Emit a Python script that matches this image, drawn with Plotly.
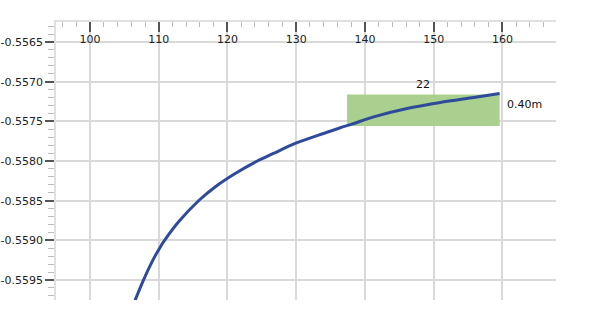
import plotly.graph_objects as go

# Curve data
curve_x = [106.55, 107.76, 109.13, 110.19, 110.82, 112.86, 115.87, 118.20, 121.12, 124.28,
           126.69, 129.85, 133.97, 136.41, 138.11, 141.26, 146.12, 150.97, 155.82, 159.60]
curve_y = [-0.559758, -0.559505, -0.559253, -0.559090, -0.559005, -0.558770, -0.558495,
           -0.558327, -0.558158, -0.558003, -0.557905, -0.557779, -0.557653, -0.557580,
           -0.557535, -0.557443, -0.557337, -0.557261, -0.557198, -0.557148]

# Highlight box
box_x = [137.4, 159.6]
box_y = [-0.55756, -0.55716]
box_width_label = "22"
box_height_label = "0.40m"

x_ticks = [100, 110, 120, 130, 140, 150, 160]
y_ticks = [-0.5565, -0.5570, -0.5575, -0.5580, -0.5585, -0.5590, -0.5595]
y_tick_text = ["-0.5565", "-0.5570", "-0.5575", "-0.5580", "-0.5585", "-0.5590", "-0.5595"]

FONT = "DejaVu Sans"

fig = go.Figure()
fig.add_trace(go.Scatter(
    x=[box_x[0], box_x[1], box_x[1], box_x[0], box_x[0]],
    y=[box_y[0], box_y[0], box_y[1], box_y[1], box_y[0]],
    fill="toself", fillcolor="#a9d08e", line=dict(width=0), mode="lines",
    hoverinfo="skip", showlegend=False))
fig.add_trace(go.Scatter(
    x=curve_x, y=curve_y, mode="lines",
    line=dict(color="#2f4a9a", width=3, shape="spline", smoothing=0.8), showlegend=False))

fig.add_annotation(x=(box_x[0] + box_x[1]) / 2, y=box_y[1], text=box_width_label,
                   showarrow=False, yanchor="bottom", yshift=1,
                   font=dict(family=FONT, size=11, color="#111"))
fig.add_annotation(x=box_x[1], y=(box_y[0] + box_y[1]) / 2, text=box_height_label,
                   showarrow=False, xanchor="left", xshift=5, yshift=6,
                   font=dict(family=FONT, size=11, color="#111"))

fig.update_layout(
    width=608, height=326,
    margin=dict(l=56, r=52, t=22, b=26, autoexpand=False),
    plot_bgcolor="white", paper_bgcolor="white",
    font=dict(family=FONT, size=11, color="#222"),
    xaxis=dict(
        range=[95.05, 167.8], side="top", tickvals=x_ticks,
        ticks="inside", ticklen=10, tickwidth=2, tickcolor="#555",
        ticklabelstandoff=-27, automargin=False,
        showgrid=True, gridcolor="#d9d9d9", gridwidth=1.5,
        showline=True, linecolor="#e0e0e0", linewidth=1.5,
        zeroline=False,
        minor=dict(dtick=2, ticks="inside", ticklen=5, tickcolor="#bbbbbb", tickwidth=1, showgrid=False),
    ),
    yaxis=dict(
        range=[-0.559753, -0.556247], tickvals=y_ticks, ticktext=y_tick_text,
        ticks="outside", ticklen=9, tickwidth=2, tickcolor="#555", automargin=False,
        showgrid=True, gridcolor="#d9d9d9", gridwidth=1.5,
        showline=True, linecolor="#e0e0e0", linewidth=1.5,
        zeroline=False,
        minor=dict(dtick=0.0001, ticks="outside", ticklen=6, tickcolor="#bbbbbb", tickwidth=1, showgrid=False),
    ),
)

fig.write_html("out.html")
